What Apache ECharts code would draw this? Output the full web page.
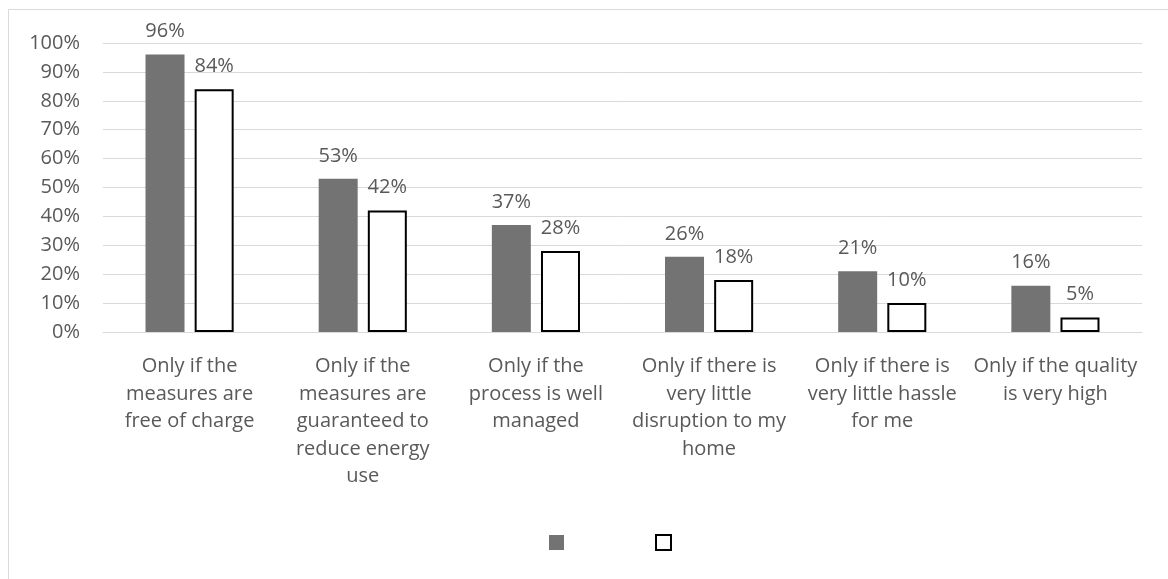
<!DOCTYPE html>
<html>
<head>
<meta charset="utf-8">
<script src="https://cdn.jsdelivr.net/npm/echarts@6/dist/echarts.min.js"></script>
<style>
  html, body { margin: 0; padding: 0; background: #fff; }
  #chart { width: 1168px; height: 579px; }
</style>
</head>
<body>
<div id="chart"></div>
<script>
var categories = [
  'Only if the\nmeasures are\nfree of charge',
  'Only if the\nmeasures are\nguaranteed to\nreduce energy\nuse',
  'Only if the\nprocess is well\nmanaged',
  'Only if there is\nvery little\ndisruption to my\nhome',
  'Only if there is\nvery little hassle\nfor me',
  'Only if the quality\nis very high'
];
var greyValues = [96, 53, 37, 26, 21, 16];
var whiteValues = [84, 42, 28, 18, 10, 5];

var chart = echarts.init(document.getElementById('chart'));
var textColor = '#595959';
var font = '"Open Sans", sans-serif';

chart.setOption({
  animation: false,
  textStyle: { fontFamily: font },
  graphic: [{
    type: 'rect',
    shape: { x: 8.5, y: 9.5, width: 1300, height: 700 },
    style: { fill: 'none', stroke: '#d9d9d9', lineWidth: 1 },
    silent: true
  }],
  grid: { left: 103, right: 26, top: 43, bottom: 247, containLabel: false },
  legend: {
    left: 544, top: 529,
    itemWidth: 15, itemHeight: 15, itemGap: 91,
    formatter: function () { return ''; },
    data: [
      { name: 'A', icon: 'rect', itemStyle: { color: '#737373', borderWidth: 0 } },
      { name: 'B', icon: 'rect', itemStyle: { color: '#fff', borderColor: '#000', borderWidth: 2 } }
    ]
  },
  xAxis: {
    type: 'category',
    data: categories,
    axisLine: { lineStyle: { color: '#d9d9d9' } },
    axisTick: { show: false },
    axisLabel: {
      interval: 0, color: textColor, fontSize: 20, lineHeight: 27.5,
      margin: 21, fontFamily: font
    }
  },
  yAxis: {
    type: 'value', min: 0, max: 100, interval: 10,
    axisLine: { show: false },
    axisTick: { show: false },
    splitLine: { lineStyle: { color: '#d9d9d9' } },
    axisLabel: { formatter: '{value}%', color: textColor, fontSize: 20, margin: 23, fontFamily: font }
  },
  series: [{
    name: 'A', type: 'bar', data: greyValues,
    barWidth: 39, barGap: '26%',
    itemStyle: { color: '#737373' },
    label: { show: true, position: 'top', distance: 13, formatter: '{c}%', color: textColor, fontSize: 20, fontFamily: font }
  }, {
    name: 'B', type: 'bar', data: whiteValues,
    barWidth: 39,
    itemStyle: { color: '#fff', borderColor: '#000', borderWidth: 2 },
    label: { show: true, position: 'top', distance: 13, formatter: '{c}%', color: textColor, fontSize: 20, fontFamily: font }
  }]
});
</script>
</body>
</html>
